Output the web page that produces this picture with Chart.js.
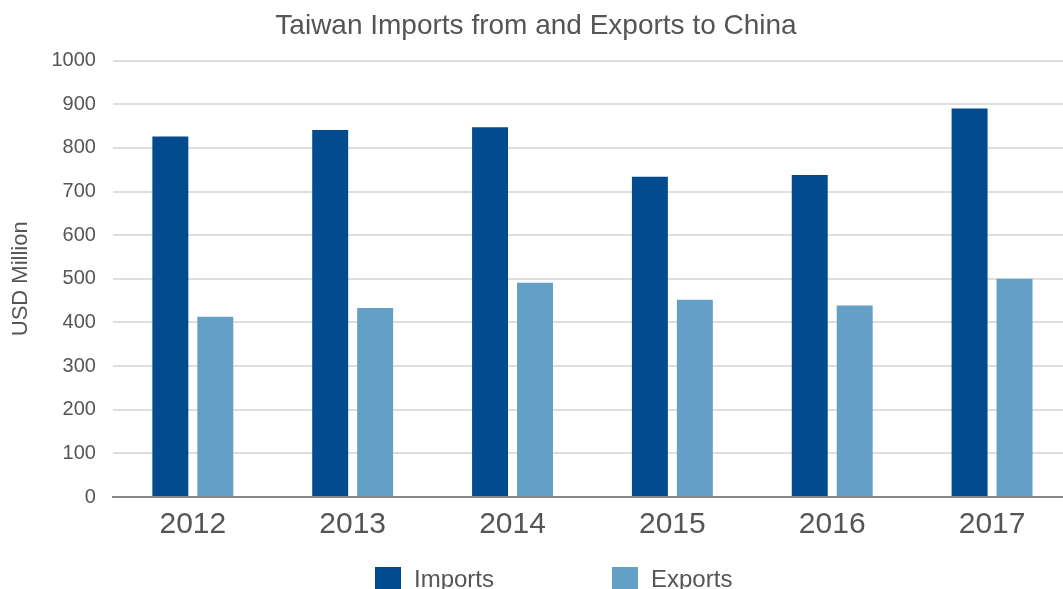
<!DOCTYPE html>
<html>
<head>
<meta charset="utf-8">
<script src="https://cdn.jsdelivr.net/npm/chart.js@4/dist/chart.umd.min.js"></script>
<style>
  html, body { margin: 0; padding: 0; background: #fff; }
  #wrap { position: relative; width: 1063px; height: 589px; overflow: hidden; }
  #box { position: absolute; left: 0; top: 0; width: 1072px; height: 589px; }
  #legend { position: absolute; top: 565px; left: 375px; display: flex; align-items: center;
            font-family: 'Liberation Sans', Arial, sans-serif; font-size: 24px; color: #555; }
  #legend .item { display: flex; align-items: center; }
  #legend .sw { width: 26px; height: 24px; margin-right: 13px; }
</style>
</head>
<body>
<div id="wrap">
  <div id="box"><canvas id="chart"></canvas></div>
  <div id="legend"></div>
</div>
<script>
// Taiwan imports / exports, USD million
const years = ['2012', '2013', '2014', '2015', '2016', '2017'];
const imports = [826, 841, 847, 734, 738, 890];
const exportsVals = [413, 433, 491, 452, 439, 500];
const seriesNames = ['Imports', 'Exports'];
const seriesColors = ['#024b8f', '#64a0c5'];

const FONT = "'Liberation Sans', Arial, sans-serif";

new Chart(document.getElementById('chart'), {
  type: 'bar',
  data: {
    labels: years,
    datasets: [
      { label: seriesNames[0], data: imports, backgroundColor: seriesColors[0] },
      { label: seriesNames[1], data: exportsVals, backgroundColor: seriesColors[1] }
    ]
  },
  options: {
    responsive: true,
    maintainAspectRatio: false,
    animation: false,
    categoryPercentage: 0.5625,
    barPercentage: 0.8,
    layout: { padding: { left: 0, right: 0, top: 0, bottom: 36 } },
    plugins: {
      legend: { display: false },
      tooltip: { enabled: false },
      title: {
        display: true,
        text: 'Taiwan Imports from and Exports to China',
        color: '#555',
        font: { family: FONT, size: 28, weight: 'normal' },
        padding: { top: 9, bottom: 18 }
      }
    },
    scales: {
      y: {
        min: 0,
        max: 1000,
        ticks: {
          stepSize: 100, color: '#555', padding: 17,
          font: { family: FONT, size: 20 },
          callback: v => String(v)
        },
        grid: { color: '#dedede', lineWidth: 2, drawTicks: false },
        border: { display: false },
        title: {
          display: true,
          text: 'USD Million',
          color: '#555',
          font: { family: FONT, size: 22 },
          padding: { top: 8, bottom: 0 }
        }
      },
      x: {
        ticks: { color: '#555', padding: 10, font: { family: FONT, size: 30 } },
        grid: { display: false, drawTicks: false },
        border: { display: true, color: '#888', width: 2 }
      }
    }
  }
});

// legend drawn as html so the wide item gap matches the original
const legend = document.getElementById('legend');
seriesNames.forEach((name, i) => {
  const item = document.createElement('div');
  item.className = 'item';
  if (i > 0) item.style.marginLeft = '118px';
  item.innerHTML = `<span class="sw" style="background:${seriesColors[i]}"></span><span>${name}</span>`;
  legend.appendChild(item);
});
</script>
</body>
</html>
